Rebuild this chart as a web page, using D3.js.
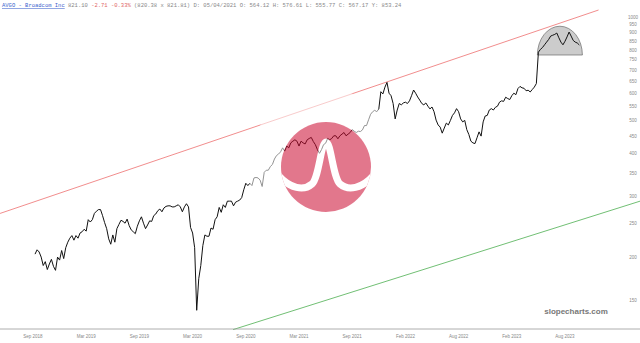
<!DOCTYPE html>
<html><head><meta charset="utf-8">
<script src="https://cdn.jsdelivr.net/npm/d3@7"></script>
<style>body{margin:0;background:#fff}svg{display:block}</style></head>
<body>
<svg id="c" width="640" height="343"></svg>
<script>
// weekly closes, week index 0 = first week of Sep 2018 (tick every 26 weeks)
const startWeek = 1;
const closes = [
204,210,207,200,189,194,184,191,197,188,183,200,196,209,198,213,
221,227,231,224,231,227,235,237,241,238,257,253,257,
268,272,275,275,264,252,242,226,218,232,221,242,249,
256,254,251,258,247,240,237,234,246,255,262,251,242,
248,255,254,264,267,273,276,271,278,281,282,282,280,
280,282,284,280,271,280,286,280,244,235,213,140,173,
189,216,232,230,230,243,241,257,262,279,270,284,279,
291,291,291,282,289,291,293,298,314,328,323,328,323,
340,341,340,335,321,353,358,358,367,372,386,395,399,
405,416,407,421,416,430,435,439,435,421,435,430,427,
439,443,446,434,425,411,401,411,425,429,443,439,443,
451,451,442,451,456,461,451,456,461,470,465,461,465,
464,469,483,483,502,521,530,535,530,540,606,597,625,645,
600,590,560,505,536,560,555,562,565,560,570,590,613,
600,585,573,560,555,562,550,540,547,530,501,485,478,
459,475,491,485,500,517,526,541,530,505,495,500,470,
455,435,430,428,445,463,450,495,515,517,536,541,536,
546,550,565,570,568,584,579,575,590,600,594,619,628,
622,620,610,612,605,615,625,640,
790,805,815,830,845,860,880,885,890,898,870,845,830,850,875,904,880,855,845,840,829];
const tickWeeks = [0,26,52,78,104,130,156,182,208,234,260];
const tickLabels = ["Sep 2018","Mar 2019","Sep 2019","Mar 2020","Sep 2020","Mar 2021","Sep 2021","Feb 2022","Aug 2022","Feb 2023","Aug 2023"];
const yTicks = [1000,950,900,850,800,750,700,650,600,550,500,450,400,350,300,250,200,150];
const upperChannel = [[-16.1,268],[276.4,1048]];
const lowerChannel = [[97.8,123],[296.7,291]];
const dome = {w0:246.5, w1:268.5, base:775, top:940};

const svg = d3.select("#c");
const x = d3.scaleLinear().domain([0,260]).range([33,565]);
const y = d3.scaleLog().domain([150,1000]).range([300,17]);
const data = closes.map((v,i)=>({w:startWeek+i, v}));

// header
const hdr = svg.append("text").attr("x",2).attr("y",7)
  .style("font-family","'Liberation Mono', monospace").style("font-size","5.5px").attr("fill","#888");
hdr.append("tspan").attr("fill","#3a5fcd").attr("text-decoration","underline").text("AVGO - Broadcom Inc");
hdr.append("tspan").text(" 821.10 ");
hdr.append("tspan").attr("fill","#e06666").text("-2.71 -0.33%");
hdr.append("tspan").text(" (820.38 x 821.81) D: 05/04/2021 O: 564.12 H: 576.61 L: 555.77 C: 567.17 Y: 853.24");

// channels
const lineXY = d3.line().x(d=>x(d[0])).y(d=>y(d[1]));
svg.append("path").attr("d",lineXY(upperChannel)).attr("stroke","#ee7070").attr("stroke-width",0.8).attr("fill","none");
svg.append("path").attr("d",lineXY(lowerChannel)).attr("stroke","#4caf50").attr("stroke-width",0.8).attr("fill","none");

// dome
const cx = (x(dome.w0)+x(dome.w1))/2, rx=(x(dome.w1)-x(dome.w0))/2;
const by = y(dome.base), ry = by - y(dome.top);
svg.append("path").attr("d",`M${cx-rx},${by} A${rx},${ry} 0 0 1 ${cx+rx},${by} Z`)
  .attr("fill","#cccccc").attr("stroke","#555").attr("stroke-width",0.6);

// price line
svg.append("path").datum(data).attr("d",d3.line().x(d=>x(d.w)).y(d=>y(d.v)))
  .attr("fill","none").attr("stroke","#111").attr("stroke-width",1).attr("stroke-linejoin","round");

// logo overlay (semi-transparent watermark)
const defs = svg.append("defs");
defs.append("clipPath").attr("id","lc").append("circle").attr("r",45);
const lg = svg.append("g").attr("transform","translate(326,167)").attr("opacity",0.55);
lg.append("circle").attr("r",78).attr("fill","#fff");
lg.append("circle").attr("r",45).attr("fill","#cc092f");
lg.append("path").attr("clip-path","url(#lc)")
  .attr("d","M-48,8 C-36,22 -22,24 -14,17 C-7,11 -5,-25 0,-25 C5,-25 7,11 14,17 C22,24 36,22 48,8")
  .attr("fill","none").attr("stroke","#fff").attr("stroke-width",7);

// axes
svg.append("line").attr("x1",0).attr("x2",640).attr("y1",329).attr("y2",329).attr("stroke","#999").attr("stroke-width",0.8);
svg.selectAll(".xt").data(tickWeeks).enter().append("text")
  .attr("x",d=>x(d)).attr("y",338).attr("text-anchor","middle")
  .style("font-family","'Liberation Sans', sans-serif").style("font-size","4.5px").attr("fill","#888")
  .text((d,i)=>tickLabels[i]);
svg.selectAll(".yt").data(yTicks).enter().append("text")
  .attr("x",633).attr("y",d=>y(d)+1.5).attr("text-anchor","middle")
  .style("font-family","'Liberation Sans', sans-serif").style("font-size","4.5px").attr("fill","#888")
  .text(d=>d);

svg.append("text").attr("x",576).attr("y",314).attr("text-anchor","middle")
  .style("font-family","'Liberation Sans', sans-serif").style("font-size","8px").style("font-weight","bold")
  .attr("fill","#777").text("slopecharts.com");
</script>
</body></html>
